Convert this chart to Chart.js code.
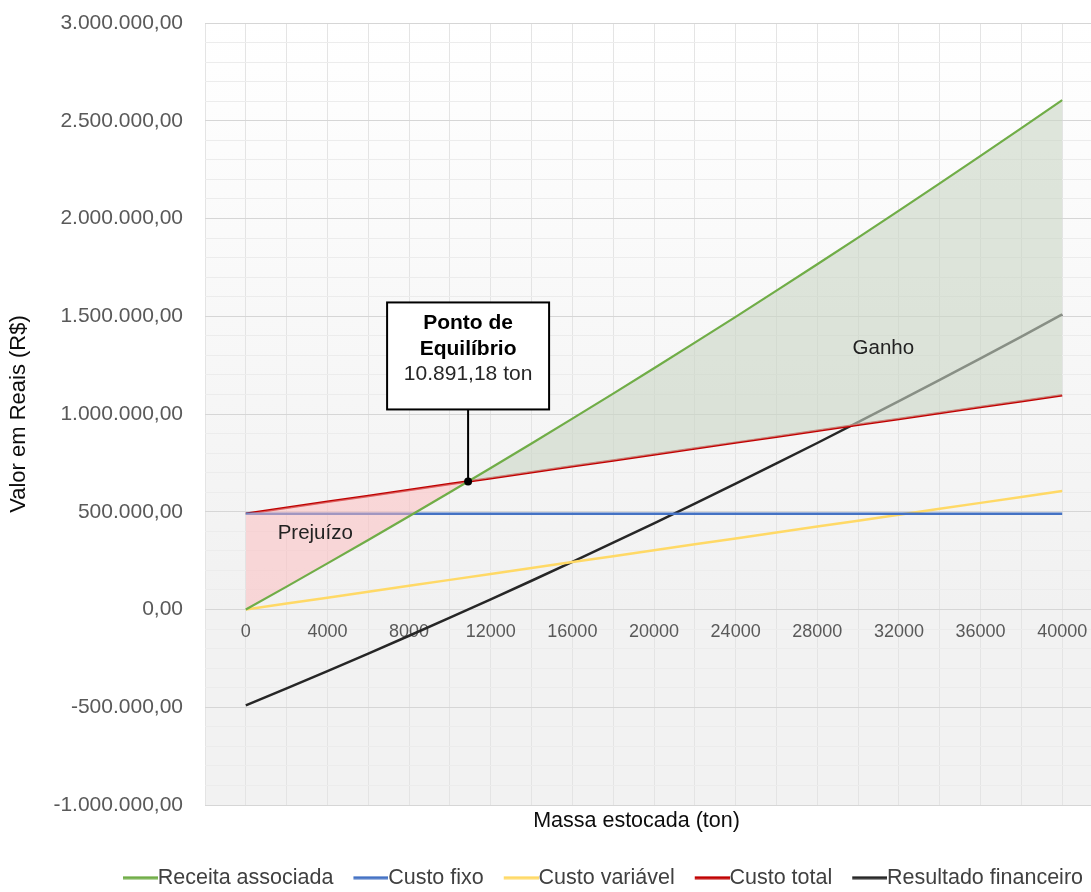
<!DOCTYPE html>
<html><head><meta charset="utf-8">
<script src="https://cdn.jsdelivr.net/npm/chart.js@4.4.1/dist/chart.umd.min.js"></script>
<style>
html,body{margin:0;padding:0;background:#ffffff;overflow:hidden;}
#wrap{width:1120px;height:892px;position:relative;}
</style></head>
<body><div id="wrap"><canvas id="c" width="1120" height="892" style="width:1120px;height:892px"></canvas></div>
<script>
// ---- data ----
const massaTon = [0,2000,4000,6000,8000,10000,12000,14000,16000,18000,20000,22000,24000,26000,28000,30000,32000,34000,36000,38000,40000];
const receitaAssociada = [0,117200,235800,355700,477000,599700,723800,849200,976100,1104300,1233800,1364800,1497100,1630800,1765900,1902400,2040200,2179500,2320000,2462000,2605400];
const custoFixo = [490000,490000,490000,490000,490000,490000,490000,490000,490000,490000,490000,490000,490000,490000,490000,490000,490000,490000,490000,490000,490000];
const custoVariavel = [0,30300,60600,90900,121200,151500,181800,212100,242400,272700,303000,333300,363600,393900,424200,454500,484800,515100,545400,575700,606000];
const custoTotal = [490000,520300,550600,580900,611200,641500,671800,702100,732400,762700,793000,823300,853600,883900,914200,944500,974800,1005100,1035400,1065700,1096000];
const resultadoFinanceiro = [-490000,-403100,-314800,-225200,-134200,-41800,52000,147100,243700,341600,440800,541500,643500,746900,851700,957900,1065400,1174400,1284600,1396300,1509400];
const xTickLabels = [0,4000,8000,12000,16000,20000,24000,28000,32000,36000,40000];
const yTickLabels = [-1000000,-500000,0,500000,1000000,1500000,2000000,2500000,3000000];
const seriesNames = ['Receita associada','Custo fixo','Custo variável','Custo total','Resultado financeiro'];
const breakevenX = [10891.18];
const breakevenY = [655000];
const breakevenText = ['Ponto de','Equilíbrio','10.891,18 ton'];
const regionLabels = ['Prejuízo','Ganho'];
const axisTitles = ['Massa estocada (ton)','Valor em Reais (R$)'];

const FONT = "'Liberation Sans', Arial, sans-serif";
const LEG_FONT = 21.5, LEG_BOX = 24, LEG_PAD = 20;

function fmtBR(v){
  const neg = v < 0;
  const parts = Math.abs(v).toFixed(2).split('.');
  const ip = parts[0].replace(/\B(?=(\d{3})+(?!\d))/g, '.');
  return (neg ? '-' : '') + ip + ',' + parts[1];
}
const pts = arr => massaTon.map((x, i) => ({x: x, y: arr[i]}));

// legend swatch: a line that runs from the swatch start up to the text
function legendLine(color){
  const half = LEG_FONT / 2;
  const W = Math.round(LEG_BOX + 2 * half);
  const cv = document.createElement('canvas');
  cv.width = W; cv.height = 4;
  const c = cv.getContext('2d');
  c.strokeStyle = color; c.lineWidth = 3;
  c.beginPath(); c.moveTo(Math.round(half), 2); c.lineTo(W, 2); c.stroke();
  return cv;
}

const bgPlugin = {
  id: 'bgGrad',
  beforeUpdate(chart){
    const lg = chart.legend;
    if (lg && !lg._patchedFit) {
      const baseFit = Object.getPrototypeOf(lg).fit;
      lg.fit = function(){ baseFit.call(this); this.height = LEG_PAD + 25; };
      lg._patchedFit = true;
    }
  },
  beforeDraw(chart){
    const {ctx, chartArea: a, scales: {y}} = chart;
    const y0 = y.getPixelForValue(0);
    ctx.save();
    const g = ctx.createLinearGradient(0, a.top, 0, y0);
    g.addColorStop(0, '#ffffff');
    g.addColorStop(1, '#f1f1f1');
    ctx.fillStyle = g;
    ctx.fillRect(a.left, a.top, a.right - a.left, y0 - a.top);
    ctx.fillStyle = '#f2f2f2';
    ctx.fillRect(a.left, y0, a.right - a.left, a.bottom - y0);
    ctx.restore();
  }
};

const notePlugin = {
  id: 'notes',
  afterDatasetsDraw(chart){
    const {ctx, chartArea: a, scales: {x, y}} = chart;
    ctx.save();
    // region labels
    ctx.fillStyle = '#222222';
    ctx.font = '20.5px ' + FONT;
    ctx.textAlign = 'left';
    ctx.textBaseline = 'middle';
    ctx.fillText(regionLabels[0], x.getPixelForValue(1560), y.getPixelForValue(390000));
    ctx.fillText(regionLabels[1], x.getPixelForValue(29730), y.getPixelForValue(1335000));
    // breakeven callout
    const px = x.getPixelForValue(breakevenX[0]);
    const py = y.getPixelForValue(breakevenY[0]);
    const w = 162, h = 107;
    const bottom = py - 72, top = bottom - h, left = px - w / 2;
    ctx.fillStyle = '#ffffff';
    ctx.fillRect(left, top, w, h);
    ctx.strokeStyle = '#000000';
    ctx.lineWidth = 2;
    ctx.strokeRect(left, top, w, h);
    ctx.beginPath();
    ctx.moveTo(px, bottom);
    ctx.lineTo(px, py);
    ctx.stroke();
    ctx.beginPath();
    ctx.arc(px, py, 4, 0, Math.PI * 2);
    ctx.fillStyle = '#000000';
    ctx.fill();
    ctx.textAlign = 'center';
    ctx.fillStyle = '#000000';
    ctx.font = 'bold 21px ' + FONT;
    ctx.fillText(breakevenText[0], px, top + 21);
    ctx.fillText(breakevenText[1], px, top + 47);
    ctx.fillStyle = '#262626';
    ctx.font = '21px ' + FONT;
    ctx.fillText(breakevenText[2], px, top + 72);
    // x-axis title
    ctx.fillStyle = '#0d0d0d';
    ctx.font = '21.5px ' + FONT;
    ctx.fillText(axisTitles[0], a.left + 431.5, a.bottom + 16);
    ctx.restore();
  }
};

const colors = ['#70ad47','#4472c4','#ffd966','#c00000','#262626'];
const widths = [2.2, 2.5, 2.5, 2.5, 2.5];
const seriesData = [receitaAssociada, custoFixo, custoVariavel, custoTotal, resultadoFinanceiro];

const datasets = seriesData.map((arr, i) => ({
  label: seriesNames[i],
  data: pts(arr),
  borderColor: colors[i],
  backgroundColor: colors[i],
  borderWidth: widths[i],
  pointRadius: 0,
  pointHoverRadius: 0,
  pointStyle: legendLine(colors[i]),
  tension: 0,
  fill: false
}));
datasets[0].fill = {target: 3, above: 'rgba(201,213,196,0.6)', below: 'rgba(253,185,187,0.5)'};

new Chart(document.getElementById('c'), {
  type: 'line',
  data: {datasets: datasets},
  plugins: [bgPlugin, notePlugin],
  options: {
    responsive: false,
    animation: false,
    devicePixelRatio: 1,
    layout: {padding: {left: 0, top: 23, right: 17, bottom: 0}},
    plugins: {
      filler: {propagate: false},
      tooltip: {enabled: false},
      legend: {
        position: 'bottom',
        align: 'end',
        labels: {
          usePointStyle: true,
          pointStyleWidth: LEG_BOX,
          padding: LEG_PAD,
          color: '#404040',
          font: {family: FONT, size: LEG_FONT}
        }
      }
    },
    scales: {
      x: {
        type: 'linear',
        position: {y: 0},
        min: -2000, max: 42000,
        border: {display: false},
        grid: {color: '#e4e4e4', lineWidth: 1, drawTicks: false},
        ticks: {
          stepSize: 2000, autoSkip: false, maxRotation: 0, padding: 12,
          color: '#595959', font: {family: FONT, size: 18},
          callback: v => xTickLabels.includes(v) ? String(v) : ''
        }
      },
      x2: {
        type: 'linear',
        position: 'bottom',
        min: -2000, max: 42000,
        border: {display: false},
        grid: {display: false, drawTicks: false},
        ticks: {display: false},
        afterFit: s => { s.height = 42; }
      },
      y: {
        type: 'linear',
        position: 'left',
        min: -1000000, max: 3000000,
        border: {display: false},
        grid: {
          drawTicks: true,
          tickLength: 12,
          tickColor: 'rgba(0,0,0,0)',
          color: c => (c.tick && c.tick.value % 500000 === 0) ? '#d6d6d6' : '#ececec'
        },
        ticks: {
          stepSize: 100000, autoSkip: false, padding: 10,
          color: '#595959', font: {family: FONT, size: 21},
          callback: v => yTickLabels.includes(v) ? fmtBR(v) : ''
        },
        title: {display: true, text: axisTitles[1], color: '#0d0d0d',
                font: {family: FONT, size: 22}, padding: {top: 6, bottom: 0}},
        afterFit: s => { s.width = 205; }
      }
    }
  }
});
</script></body></html>
